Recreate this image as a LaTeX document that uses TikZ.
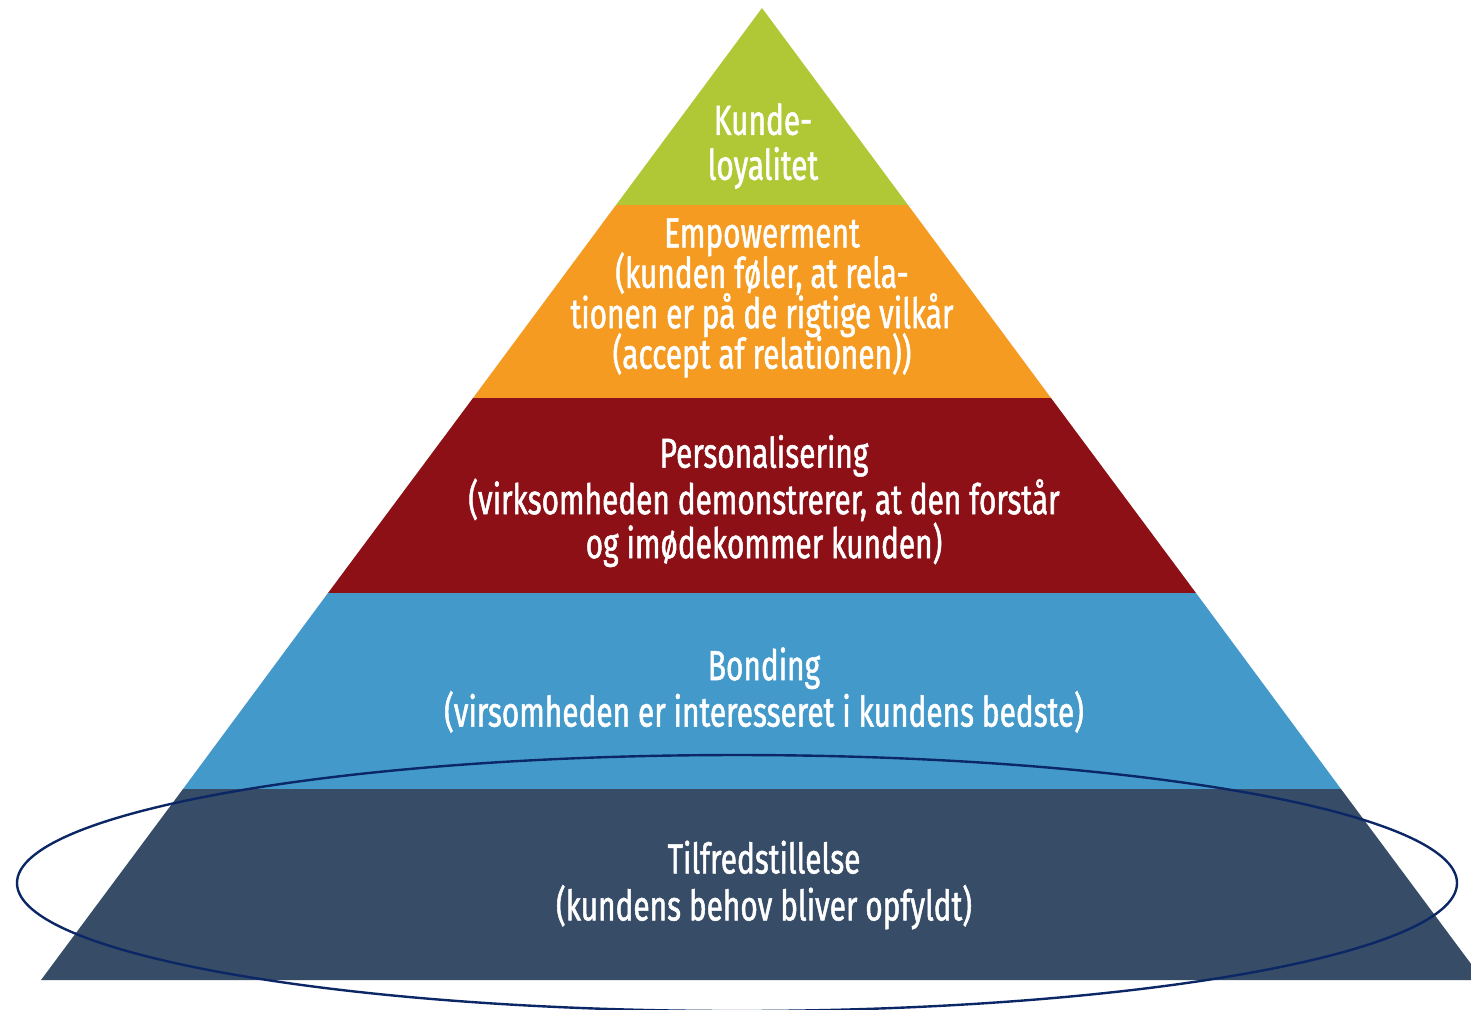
\documentclass[tikz,border=0pt]{standalone}
\usepackage{fontspec}
\setmainfont{Fira Sans}[FakeStretch=0.71,FakeBold=1.2]
\definecolor{cgreen}{HTML}{B1C836}
\definecolor{corange}{HTML}{F59B22}
\definecolor{cred}{HTML}{8C1015}
\definecolor{cblue}{HTML}{4499CB}
\definecolor{cdark}{HTML}{374C66}
\definecolor{cring}{HTML}{0B2766}
\newcommand{\mytightlines}{\lineskiplimit -100pt\relax}
\tikzset{
  lbl/.style={text=white, align=center, font=\fontsize{21}{22}\selectfont, inner sep=0pt},
  ring/.style={draw=cring, line width=1.2pt}
}
\begin{document}
\begin{tikzpicture}[x=0.5pt,y=-0.5pt]
\useasboundingbox (0,0) rectangle (1471,1009);
\clip (0,0) rectangle (1471,1009);
\fill[white] (0,0) rectangle (1471,1009);
% tiers: hw(y)=0.7414*(y-8), centre x=762
\fill[cgreen] (762,8) -- (908,205) -- (616,205) -- cycle;
\fill[corange] (616,205) -- (908,205) -- (1051,398) -- (473,398) -- cycle;
\fill[cred] (473,398) -- (1051,398) -- (1196,593) -- (328,593) -- cycle;
\fill[cblue] (328,593) -- (1196,593) -- (1341,789) -- (183,789) -- cycle;
\fill[cdark] (183,789) -- (1341,789) -- (1483,980) -- (41,980) -- cycle;
\node[lbl, font=\fontsize{21}{22.5}\selectfont] (t1) at (763,146) {Kunde-\\loyalitet};
\node[lbl, font={\fontsize{21}{20.2}\selectfont\mytightlines}] (t2) at (762,298) {Empowerment\\(kunden føler, at rela-\\tionen er på de rigtige vilkår\\(accept af relationen))};
\node[lbl] (t3) at (764,501) {Personalisering\\(virksomheden demonstrerer, at den forstår\\og imødekommer kunden)};
\node[lbl] (t4) at (764,690) {Bonding\\(virsomheden er interesseret i kundens bedste)};
\node[lbl, font=\fontsize{21}{23.5}\selectfont] (t5) at (764,885) {Tilfredstillelse\\(kundens behov bliver opfyldt)};
\draw[ring] (737,883) ellipse [x radius=720, y radius=128];
\end{tikzpicture}
\end{document}
